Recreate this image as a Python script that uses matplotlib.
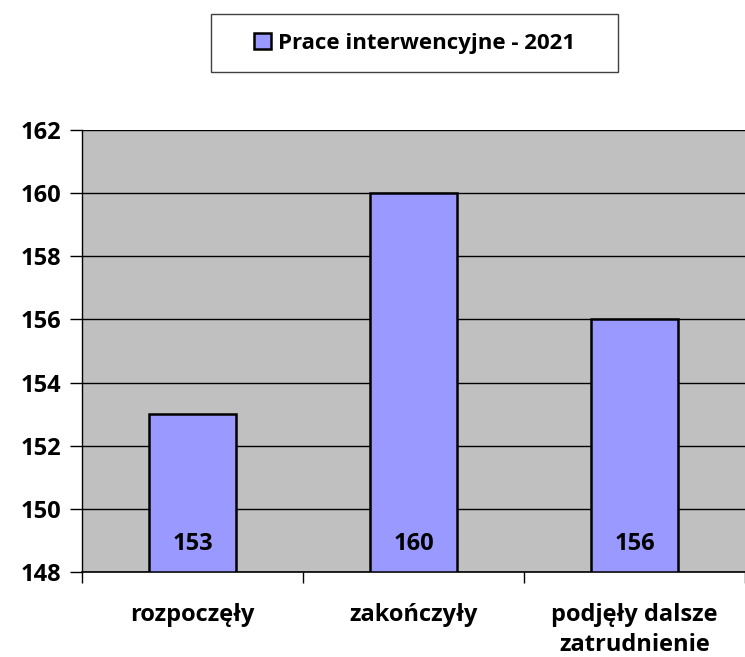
import numpy as np
import matplotlib.pyplot as plt
from matplotlib.patches import Rectangle

categories = ["rozpoczęły", "zakończyły", "podjęły dalsze\nzatrudnienie"]
values = [153, 160, 156]
series_name = "Prace interwencyjne - 2021"
yticks = [148, 150, 152, 154, 156, 158, 160, 162]

plt.rcParams['font.family'] = ['Open Sans', 'DejaVu Sans']

fig = plt.figure(figsize=(7.45, 6.57), dpi=100)
ax = fig.add_axes([82/745, 1 - 572/657, (745 - 82)/745, (572 - 130)/657])
ax.set_facecolor('#C0C0C0')

x = np.arange(len(categories))
bars = ax.bar(x, np.array(values) - 148, bottom=148, width=0.395,
              color='#9999FF', edgecolor='black', linewidth=1.8, zorder=3,
              label=series_name)

for xi, v in zip(x, values):
    ax.text(xi, 148.9, str(v), ha='center', va='center', fontsize=17,
            fontweight='bold', zorder=4)

ax.set_xlim(-0.5, 2.5)
ax.set_ylim(148, 162)
ax.set_yticks(yticks)
ax.set_yticklabels([str(t) for t in yticks], fontsize=17, fontweight='bold')
ax.yaxis.grid(True, color='black', linewidth=1, zorder=1)
ax.tick_params(axis='y', length=9, width=1, pad=6)

ax.set_xticks([-0.5, 0.5, 1.5, 2.5])
ax.set_xticklabels([])
ax.tick_params(axis='x', length=8, width=1)
ax.set_xticks(x, minor=True)
ax.set_xticklabels(categories, minor=True, fontsize=17, fontweight='bold',
                   linespacing=1.35)
ax.tick_params(axis='x', which='minor', length=0, pad=22)

for s in ['top', 'right']:
    ax.spines[s].set_visible(False)
ax.spines['left'].set_linewidth(1)
ax.spines['bottom'].set_linewidth(1.2)

leg = fig.legend(handles=[bars], labels=[series_name], loc='center',
                 bbox_to_anchor=((211 + 618) / 2 / 745, 1 - 43 / 657),
                 prop={'size': 16, 'weight': 'bold'}, frameon=False,
                 handlelength=0.75, handleheight=0.75, handletextpad=0.3,
                 borderaxespad=0)
fig.patches.append(Rectangle((211 / 745, 1 - 72 / 657), 407 / 745, 58 / 657,
                             transform=fig.transFigure, fill=False,
                             edgecolor='#404040', linewidth=1))

fig.savefig('out.png', dpi=100)
